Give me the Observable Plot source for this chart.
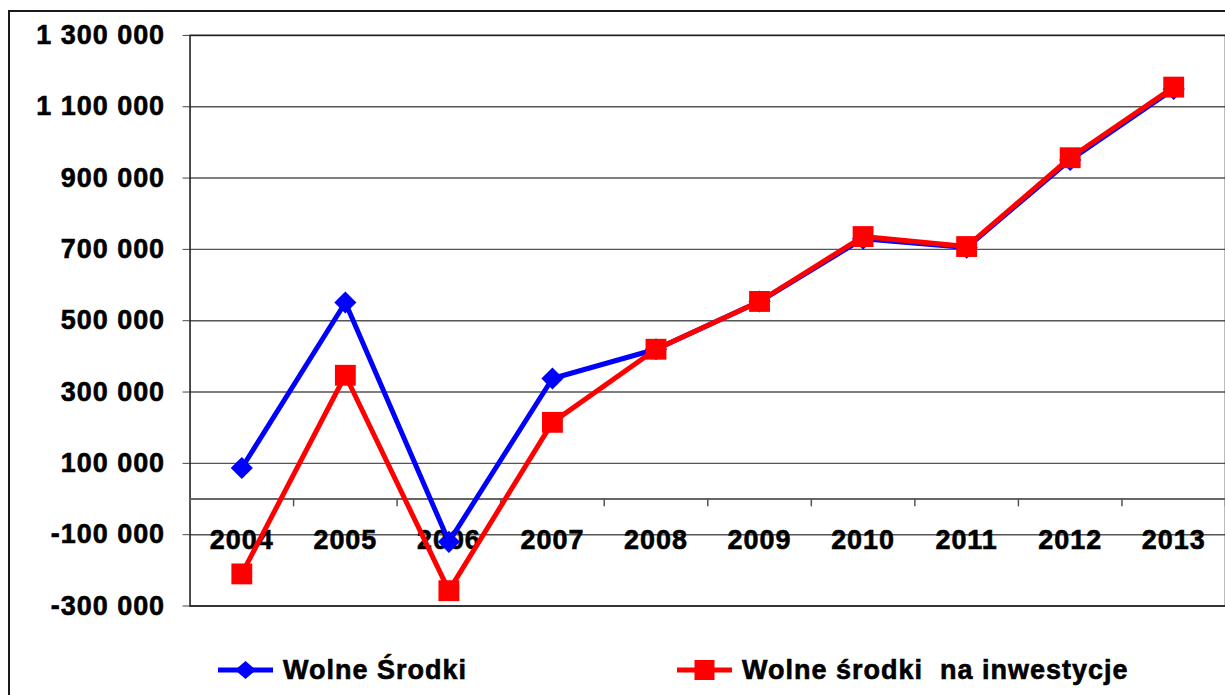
<!DOCTYPE html>
<html><head><meta charset="utf-8">
<script src="https://cdn.jsdelivr.net/npm/d3@7"></script>
<script src="https://cdn.jsdelivr.net/npm/@observablehq/plot@0.6"></script>
<style>
html,body{margin:0;padding:0;background:#fff;overflow:hidden;width:1225px;height:695px;}
body{position:relative;font-family:"Liberation Sans",Arial,sans-serif;}
#frame{position:absolute;left:8px;top:10px;width:1400px;height:900px;border:2px solid #1a1a1a;box-sizing:border-box;pointer-events:none;}
#chart{position:absolute;left:0;top:0;}
#chart text{letter-spacing:1px;stroke:#000;stroke-width:0.6px;}
#legend{position:absolute;left:0;top:645px;width:1225px;height:50px;}
.item{position:absolute;top:10px;display:flex;align-items:center;font-size:27px;font-weight:bold;letter-spacing:1px;white-space:pre;color:#000;line-height:30px;-webkit-text-stroke:0.6px #000;}
.item svg{margin-right:10px;}
</style></head><body>
<div id="chart"></div><div id="legend"></div><div id="frame"></div>
<script>
const years = [2004, 2005, 2006, 2007, 2008, 2009, 2010, 2011, 2012, 2013];
const wolneSrodki = [87000, 551000, -120000, 338000, 420000, 554000, 730000, 705000, 951000, 1150000];
const wolneSrodkiNaInwestycje = [-210000, 347000, -257000, 215000, 420000, 554000, 736000, 708000, 957000, 1155000];
const yTicks = [-300000, -100000, 100000, 300000, 500000, 700000, 900000, 1100000, 1300000];
const seriesNames = ["Wolne Środki", "Wolne środki  na inwestycje"];
const seriesColors = ["#0000FF", "#FF0000"];

const blue = years.map((yr, i) => ({year: yr, value: wolneSrodki[i]}));
const red = years.map((yr, i) => ({year: yr, value: wolneSrodkiNaInwestycje[i]}));
const bounds = [years[0] - 0.5, ...years.map(y => y + 0.5)];
const fmt = v => d3.format(",")(v).replace(/,/g, " ").replace("\u2212", "-");
const font = '"Liberation Sans", Arial, sans-serif';

const chart = Plot.plot({
  width: 1228, height: 645,
  marginTop: 35, marginBottom: 38, marginLeft: 190, marginRight: 0,
  style: {fontFamily: font, fontSize: "27px", fontWeight: "bold", color: "#000", background: "transparent", overflow: "visible"},
  x: {domain: [bounds[0], bounds[bounds.length - 1]], axis: null},
  y: {domain: [yTicks[0], yTicks[yTicks.length - 1]], axis: null},
  marks: [
    Plot.gridY(yTicks, {stroke: "#555", strokeOpacity: 1, strokeWidth: 1.4}),
    Plot.axisY(yTicks, {tickFormat: fmt, tickSize: 7, tickPadding: 18, label: null, fontSize: 27, fontWeight: "bold", fill: "#000", stroke: "#444"}),
    Plot.frame({stroke: "#222", strokeWidth: 1.6}),
    Plot.ruleY([0], {stroke: "#666", strokeWidth: 2}),
    Plot.ruleX(bounds, {y1: 0, y2: -22000, stroke: "#555", strokeWidth: 1.5}),
    Plot.text(years, {x: d => d, y: 0, dy: 41, text: d => String(d), fontSize: 27, fontWeight: "bold", fill: "#000"}),
    Plot.line(blue, {x: "year", y: "value", stroke: seriesColors[0], strokeWidth: 5}),
    Plot.dot(blue, {x: "year", y: "value", symbol: "diamond2", r: 10, fill: seriesColors[0], stroke: "none"}),
    Plot.line(red, {x: "year", y: "value", stroke: seriesColors[1], strokeWidth: 5}),
    Plot.dot(red, {x: "year", y: "value", symbol: "square", r: 11.8, fill: seriesColors[1], stroke: "none"})
  ]
});
document.getElementById("chart").appendChild(chart);

// legend
const legend = document.getElementById("legend");
const lefts = [218, 677];
const markers = [
  c => `<path d="M27.5,3 L38,12 L27.5,21 L17,12 Z" fill="${c}"/>`,
  c => `<rect x="17.5" y="2" width="20" height="20" fill="${c}"/>`
];
seriesNames.forEach((name, i) => {
  const item = document.createElement("div");
  item.className = "item";
  item.style.left = lefts[i] + "px";
  item.innerHTML = `<svg width="55" height="24"><line x1="0" y1="12" x2="55" y2="12" stroke="${seriesColors[i]}" stroke-width="5"/>${markers[i](seriesColors[i])}</svg><span>${name}</span>`;
  legend.appendChild(item);
});
</script>
</body></html>
